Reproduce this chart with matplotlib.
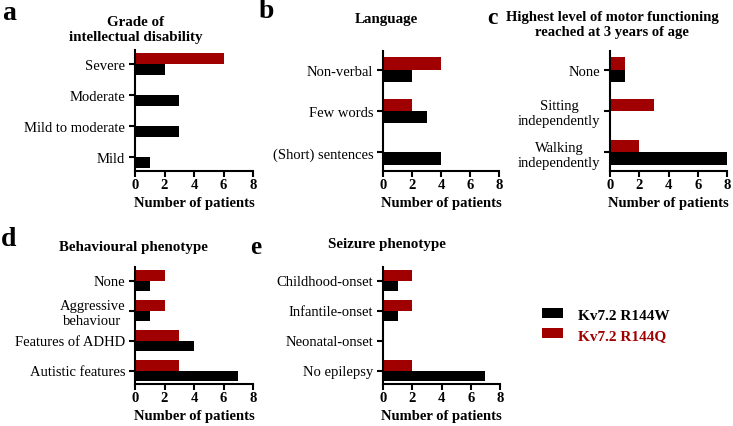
import numpy as np
import matplotlib.pyplot as plt

plt.rcParams['font.family'] = ['Liberation Serif', 'DejaVu Serif']

W, H = 733, 427
red = '#a00000'

# panel data: category labels (top to bottom), R144W (black), R144Q (red)
grade_cats = ['Severe', 'Moderate', 'Mild to moderate', 'Mild']
grade_w = [2, 3, 3, 1]
grade_q = [6, 0, 0, 0]

lang_cats = ['Non-verbal', 'Few words', '(Short) sentences']
lang_w = [2, 3, 4]
lang_q = [4, 2, 0]

motor_cats = ['None', 'Sitting\nindependently', 'Walking\nindependently']
motor_w = [1, 0, 8]
motor_q = [1, 3, 2]

behav_cats = ['None', 'Aggressive\nbehaviour', 'Features of ADHD', 'Autistic features']
behav_w = [1, 1, 4, 7]
behav_q = [2, 2, 3, 3]

seiz_cats = ['Childhood-onset', 'Infantile-onset', 'Neonatal-onset', 'No epilepsy']
seiz_w = [1, 1, 0, 7]
seiz_q = [2, 2, 0, 2]

fig = plt.figure(figsize=(W / 100, H / 100), dpi=100)


def px_axes(l, r, top, bottom):
    return fig.add_axes([l / W, 1 - bottom / H, (r - l) / W, (bottom - top) / H])


def panel(rect, cats, w, q, bh):
    ax = px_axes(*rect)
    y = np.arange(len(cats))
    bq = ax.barh(y - bh / 2, q, height=bh, color=red, label='Kv7.2 R144Q')
    bw = ax.barh(y + bh / 2, w, height=bh, color='black', label='Kv7.2 R144W')
    ax.set_ylim(len(cats) - 0.55, -0.45)
    ax.set_xlim(0, 8)
    ax.set_xticks([0, 2, 4, 6, 8])
    ax.set_yticks(y)
    ax.set_yticklabels(cats, fontsize=10.5, multialignment='center')
    for lab in ax.get_xticklabels():
        lab.set_fontweight('bold')
        lab.set_fontsize(10.5)
    ax.set_xlabel('Number of patients', fontsize=10.5, fontweight='bold', labelpad=4)
    ax.spines['top'].set_visible(False)
    ax.spines['right'].set_visible(False)
    ax.spines['left'].set_linewidth(1.5)
    ax.spines['bottom'].set_linewidth(1.5)
    ax.tick_params(width=1.5, length=4)
    ax.tick_params(axis='y', pad=3)
    ax.tick_params(axis='x', pad=1)
    return ax, bw, bq


panel((135, 253, 51, 172), grade_cats, grade_w, grade_q, 0.36)
panel((383, 499, 52, 172), lang_cats, lang_w, lang_q, 0.3)
panel((610, 727, 52, 172), motor_cats, motor_w, motor_q, 0.3)
panel((135, 253, 268, 385), behav_cats, behav_w, behav_q, 0.36)
ax, bw, bq = panel((383, 500, 268, 385), seiz_cats, seiz_w, seiz_q, 0.36)


def ftext(x, y, s, **kw):
    fig.text(x / W, 1 - y / H, s, ha='center', va='center', **kw)


ftext(136, 30, 'Grade of\nintellectual disability', fontsize=10.8, fontweight='bold', linespacing=1.2)
ftext(386, 20, 'Language', fontsize=10.8, fontweight='bold')
ftext(612, 25, 'Highest level of motor functioning\nreached at 3 years of age', fontsize=10.5,
      fontweight='bold', linespacing=1.2)
ftext(133, 248, 'Behavioural phenotype', fontsize=10.8, fontweight='bold')
ftext(387, 245, 'Seizure phenotype', fontsize=10.8, fontweight='bold')

ftext(9, 14, 'a', fontsize=20, fontweight='bold')
ftext(266, 12, 'b', fontsize=20, fontweight='bold')
ftext(492, 18, 'c', fontsize=17, fontweight='bold')
ftext(9, 240, 'd', fontsize=20, fontweight='bold')
ftext(256, 248, 'e', fontsize=18, fontweight='bold')

fig.legend(handles=[bw, bq], loc='center left', bbox_to_anchor=(528 / W, 1 - 326 / H),
           frameon=False, prop={'weight': 'bold', 'size': 11}, labelcolor=['black', red],
           handlelength=1.4, handleheight=0.6, handletextpad=1.0, labelspacing=0.45)

fig.savefig('out.png', dpi=100)
